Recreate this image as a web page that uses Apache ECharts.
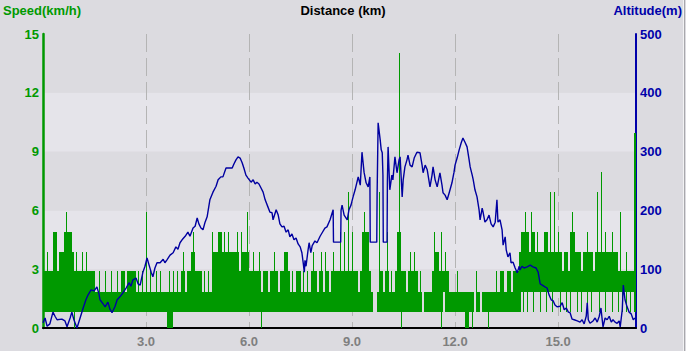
<!DOCTYPE html>
<html>
<head>
<meta charset="utf-8">
<script src="https://cdn.jsdelivr.net/npm/echarts@6.0.0/dist/echarts.min.js"></script>
<style>
  html, body { margin: 0; padding: 0; background: #dcdbe0; }
  #chart { width: 686px; height: 351px; }
</style>
</head>
<body>
<div id="chart"></div>
<script>
// speed is drawn as thin columns (distStep km wide), each going from a low level to a high level
const distStep = 0.06;
const speedLevels = [0, 0.83, 1.85, 2.89, 3.9, 4.92, 5.94, 6.95, 7.96, 9, 9.95, 11, 12, 13, 14.03];

const speedHi = [
  // 0-22
  3,3,4,3,3,5,5,3,4,4,5,6,5,5,4,3,4,3,3,4,3,4,3,
  // 23-59
  3,3,2,2,3,2,2,3,2,2,3,2,2,3,2,3,3,2,3,3,3,3,2,3,2,3,2,6,2,3,2,2,3,2,3,2,2,
  // 60-81
  2,3,2,3,2,3,2,3,4,2,3,3,4,5,3,3,3,2,3,2,3,2,
  // 82-106
  5,4,4,5,5,4,5,4,5,4,4,4,5,3,5,4,4,6,3,3,4,3,3,4,2,
  // 107-117
  3,3,2,3,3,4,3,2,3,3,4,
  // 118-158
  4,3,2,3,2,3,3,2,3,2,3,2,3,4,3,2,3,4,2,4,3,2,3,4,3,3,5,3,5,3,7,3,5,3,3,2,3,5,6,5,3,
  // 159-173
  2,1,1,2,7,3,2,3,5,2,3,2,3,5,14,
  // 174-230
  3,3,2,3,4,3,4,3,2,3,
  2,2,2,2,2,3,5,4,3,5,
  3,4,3,2,2,2,2,3,2,2,
  2,2,2,2,2,2,3,2,2,2,
  2,2,2,2,2,2,3,2,3,3,
  2,3,3,2,3,3,3,
  // 231-287
  4,5,5,6,5,4,6,5,4,5,4,4,5,5,4,7,4,7,4,5,4,3,4,4,3,5,6,4,4,4,3,4,4,5,4,4,3,4,7,4,8,4,5,4,4,5,4,4,3,6,3,3,4,3,3,3,10
];

const speedLo = [
  1,1,1,1,1,1,1,1,1,1,1,1,1,1,1,0,1,1,1,1,
  1,1,1,1,1,1,1,1,1,1,1,1,1,1,1,1,1,1,1,1,
  1,1,1,1,1,1,1,1,1,1,1,1,1,1,1,1,1,1,1,1,
  0,0,0,1,1,1,1,1,1,1,1,1,1,1,1,1,1,1,1,1,
  1,1,1,1,1,1,1,1,1,1,1,1,1,1,1,1,1,1,1,1,
  1,1,1,1,1,1,0,1,1,1,1,1,1,1,1,1,1,1,1,1,
  1,1,1,1,1,1,1,1,1,1,1,1,1,1,1,1,1,1,1,1,
  1,1,1,1,1,1,1,1,1,1,1,1,1,1,1,1,1,1,1,1,
  1,1,1,1,1,1,1,1,1,1,1,1,1,1,0,1,1,1,1,1,
  1,1,1,1,2,1,1,1,1,1,1,1,1,0,2,1,1,1,1,1,
  1,1,1,1,1,0,0,1,0,2,1,1,2,1,1,1,0,1,1,1,
  1,1,1,1,1,1,1,1,1,1,1,
  // 231-287
  1,2,1,2,1,2,2,1,2,2,
  1,2,2,1,2,2,1,2,2,2,
  1,2,2,1,2,1,2,2,1,2,
  1,2,2,1,2,1,2,2,2,1,
  2,2,1,2,2,1,2,2,1,2,
  1,2,1,2,1,2,1
];

// altitude track: [distance km, altitude m]
const altitude = [
  [0,9],[0.06,17],[0.12,3],[0.2,7],[0.29,27],[0.35,20],[0.41,14],[0.55,15],[0.64,12],[0.7,2],
  [0.79,17],[0.84,27],[0.9,14],[0.99,0],[1.08,17],[1.17,34],[1.25,48],[1.31,56],[1.4,65],[1.49,63],
  [1.57,70],[1.63,58],[1.66,48],[1.75,41],[1.81,36],[1.89,44],[1.95,32],[2.01,26],[2.1,37],[2.16,48],
  [2.24,53],[2.33,60],[2.42,68],[2.51,77],[2.56,71],[2.62,82],[2.71,85],[2.77,75],[2.83,73],[2.91,95],
  [2.97,105],[3.03,119],[3.09,107],[3.15,95],[3.2,87],[3.26,102],[3.32,111],[3.41,111],[3.5,117],[3.55,111],
  [3.61,116],[3.7,124],[3.79,128],[3.87,138],[3.93,134],[3.99,145],[4.05,150],[4.14,156],[4.22,163],[4.28,156],
  [4.37,170],[4.43,173],[4.49,187],[4.54,177],[4.6,170],[4.66,167],[4.72,180],[4.78,189],[4.86,218],[4.95,231],
  [5.04,241],[5.1,252],[5.18,257],[5.24,257],[5.33,272],[5.42,272],[5.51,272],[5.56,279],[5.62,286],[5.68,291],
  [5.74,289],[5.8,281],[5.85,272],[5.91,260],[5.97,255],[6.06,248],[6.12,252],[6.18,245],[6.23,248],[6.29,245],
  [6.35,238],[6.41,231],[6.47,218],[6.55,206],[6.61,197],[6.67,196],[6.7,184],[6.79,201],[6.85,192],[6.9,177],
  [6.96,172],[7.02,173],[7.08,163],[7.14,167],[7.19,155],[7.25,160],[7.31,150],[7.37,153],[7.43,143],[7.49,138],
  [7.54,128],[7.58,110],[7.61,95],[7.63,115],[7.66,105],[7.72,133],[7.75,145],[7.8,128],[7.84,140],[7.92,148],
  [7.98,145],[8.07,156],[8.13,162],[8.21,170],[8.27,172],[8.36,184],[8.45,201],[8.46,146],[8.67,146],[8.68,200],
  [8.71,209],[8.77,192],[8.86,184],[8.91,201],[8.97,209],[9.03,223],[9.09,235],[9.18,257],[9.24,243],[9.29,299],
  [9.35,265],[9.41,247],[9.47,240],[9.52,257],[9.53,146],[9.72,146],[9.73,226],[9.76,349],[9.82,320],[9.85,303],
  [9.88,298],[9.9,260],[9.91,146],[10.02,146],[10.03,250],[10.05,308],[10.1,235],[10.16,260],[10.19,252],[10.25,291],
  [10.31,264],[10.37,286],[10.4,291],[10.46,223],[10.49,252],[10.54,274],[10.6,286],[10.63,294],[10.69,277],[10.75,274],
  [10.81,289],[10.89,299],[10.98,298],[11.04,277],[11.07,264],[11.13,277],[11.19,269],[11.27,240],[11.33,260],[11.36,274],
  [11.42,252],[11.48,240],[11.56,264],[11.62,243],[11.65,230],[11.71,226],[11.77,218],[11.83,230],[11.91,247],[11.97,265],
  [12.0,277],[12.06,289],[12.12,303],[12.18,315],[12.23,323],[12.29,316],[12.35,308],[12.41,286],[12.44,274],[12.5,260],
  [12.53,252],[12.58,235],[12.64,223],[12.7,201],[12.73,184],[12.79,204],[12.82,196],[12.87,180],[12.93,184],[12.99,192],
  [13.05,177],[13.11,172],[13.17,180],[13.22,218],[13.25,180],[13.31,184],[13.37,167],[13.4,141],[13.46,155],[13.49,133],
  [13.54,121],[13.6,128],[13.63,111],[13.69,112],[13.75,102],[13.81,94],[13.87,105],[13.89,99],[13.95,105],[14.01,102],
  [14.1,104],[14.19,107],[14.27,104],[14.36,102],[14.42,95],[14.48,75],[14.54,73],[14.62,70],[14.68,68],[14.74,56],
  [14.8,48],[14.86,46],[14.91,39],[14.97,36],[15.06,37],[15.12,43],[15.18,31],[15.24,34],[15.3,27],[15.35,26],
  [15.41,15],[15.47,14],[15.56,12],[15.64,10],[15.7,14],[15.76,7],[15.82,20],[15.85,43],[15.88,14],[15.93,8],
  [16.02,12],[16.08,17],[16.14,10],[16.2,20],[16.25,34],[16.28,17],[16.31,2],[16.37,17],[16.43,14],[16.49,20],
  [16.55,10],[16.6,14],[16.66,10],[16.72,8],[16.78,12],[16.81,2],[16.87,31],[16.9,73],[16.95,48],[17.01,36],
  [17.07,27],[17.13,24],[17.19,14],[17.24,17]
];

const distMax = 17.27;
const font = 'Liberation Sans';
const green = '#009900';

const speedData = speedHi.map((h, i) => [
  +(i * distStep).toFixed(3), speedLevels[speedLo[i]], speedLevels[h]
]);

// a column is drawn full width where its neighbours also reach, and as a 1px line where it sticks out
const renderSpeed = (params, api) => {
  const i = params.dataIndex;
  const x = api.value(0), lo = api.value(1), hi = api.value(2);
  if (hi <= lo) return null;
  const prev = speedData[i - 1] || speedData[i];
  const next = speedData[i + 1] || speedData[i];
  let fullTop = Math.min(hi, Math.max(prev[2], next[2]));
  let fullBot = Math.max(lo, Math.min(prev[1], next[1]));
  const x0 = Math.round(api.coord([x, 0])[0]);
  const x1 = Math.round(api.coord([x + distStep, 0])[0]);
  const y = v => Math.round(api.coord([x, v])[1]);
  const children = [];
  if (fullTop > fullBot) {
    children.push({ type: 'rect', shape: { x: x0, y: y(fullTop), width: x1 - x0, height: y(fullBot) - y(fullTop) }, style: { fill: green } });
  } else {
    fullTop = fullBot = lo;
  }
  if (hi > fullTop) {
    children.push({ type: 'rect', shape: { x: x0, y: y(hi), width: 1, height: y(fullTop) - y(hi) }, style: { fill: green } });
  }
  if (fullBot > lo) {
    children.push({ type: 'rect', shape: { x: x0, y: y(fullBot), width: 1, height: y(lo) - y(fullBot) }, style: { fill: green } });
  }
  return { type: 'group', children };
};

const chart = echarts.init(document.getElementById('chart'), null, { renderer: 'svg' });

chart.setOption({
  animation: false,
  backgroundColor: '#dcdbe0',
  title: [
    { text: 'Distance (km)', left: 'center', top: 4, padding: 0,
      textStyle: { color: '#000', fontFamily: font, fontWeight: 'bold', fontSize: 13 } },
    { text: 'Speed(km/h)', left: 3, top: 4, padding: 0,
      textStyle: { color: green, fontFamily: font, fontWeight: 'bold', fontSize: 13 } },
    { text: 'Altitude(m)', right: 4, top: 4, padding: 0,
      textStyle: { color: '#0000aa', fontFamily: font, fontWeight: 'bold', fontSize: 13 } }
  ],
  grid: { left: 43, right: 50, top: 34, bottom: 23 },
  xAxis: {
    type: 'value', min: 0, max: distMax, interval: 3,
    axisLine: { lineStyle: { color: '#000', width: 2 } },
    axisTick: { show: false },
    axisLabel: {
      margin: 7, color: '#7f7f7f', fontFamily: font, fontWeight: 'bold', fontSize: 13,
      formatter: v => (v > 0 && Math.abs(v / 3 - Math.round(v / 3)) < 1e-6) ? v.toFixed(1) : ''
    },
    splitLine: { show: true, lineStyle: { color: '#b4b4b4', width: 1, type: [18, 6] } }
  },
  yAxis: [
    {
      type: 'value', min: 0, max: 15, interval: 3, position: 'left',
      axisLine: { show: true, lineStyle: { color: green, width: 2.5 } },
      axisTick: { show: false },
      axisLabel: { margin: 4, color: green, fontFamily: font, fontWeight: 'bold', fontSize: 13 },
      splitLine: { show: false },
      splitArea: { show: true, areaStyle: { color: ['#dcdbe0', '#e5e4ea'] } }
    },
    {
      type: 'value', min: 0, max: 500, interval: 100, position: 'right',
      axisLine: { show: true, lineStyle: { color: '#0000aa', width: 2 } },
      axisTick: { show: false },
      axisLabel: { margin: 4, color: '#0000aa', fontFamily: font, fontWeight: 'bold', fontSize: 13 },
      splitLine: { show: false }
    }
  ],
  graphic: [
    { type: 'line', shape: { x1: 683.5, y1: 0, x2: 683.5, y2: 351 }, style: { stroke: '#f2f2f4', lineWidth: 1 } },
    { type: 'line', shape: { x1: 684.5, y1: 0, x2: 684.5, y2: 351 }, style: { stroke: '#a8a8ac', lineWidth: 1 } }
  ],
  series: [
    {
      name: 'Speed', type: 'custom', yAxisIndex: 0, clip: true,
      encode: { x: 0, y: [1, 2] },
      data: speedData,
      renderItem: renderSpeed
    },
    {
      name: 'Altitude', type: 'line', yAxisIndex: 1, data: altitude,
      showSymbol: false, clip: true,
      lineStyle: { color: '#0000a0', width: 1.4 }
    }
  ]
});
</script>
</body>
</html>
